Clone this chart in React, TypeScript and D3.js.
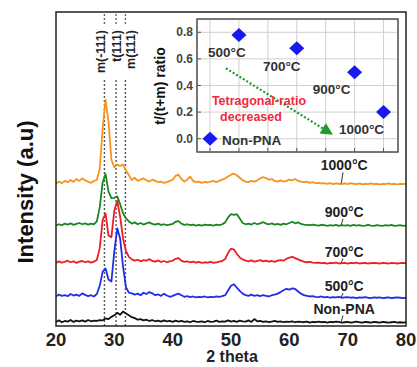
import React from "react"
import * as d3 from "d3"

// 2 theta sampled every 0.5 deg from 20 to 80
const thetaStart = 20
const thetaStep = 0.5

const seriesNames = ["Non-PNA", "500°C", "700°C", "900°C", "1000°C"]
const seriesColors = ["#111111", "#1f2fe8", "#ee1c25", "#17881f", "#f7931e"]
const seriesOffsets = [1.0, 8.8, 19.8, 31.8, 45]

const nonPNA = [
  0.3,0.8,0.2,0.6,0.4,0.9,0.3,0.7,0.5,0.8,
  0.4,0.9,0.5,0.7,0.6,0.9,0.8,1.4,1.2,1.9,
  2.4,3.2,2.6,3.6,3.0,2.4,1.8,1.5,1.0,1.2,
  0.8,1.0,0.6,0.9,0.5,0.7,0.4,0.8,0.5,0.6,
  0.3,0.7,0.4,0.6,0.3,0.5,0.2,0.6,0.4,0.3,
  0.5,0.2,0.6,0.3,0.4,0.7,0.3,0.5,0.4,0.8,
  0.4,0.6,0.3,0.7,0.5,0.4,0.8,0.3,1.2,0.5,
  0.6,0.3,0.5,0.2,0.4,0.6,0.3,0.5,0.2,0.4,
  0.3,0.5,0.2,0.4,0.3,0.2,0.4,0.1,0.3,0.2,
  0.4,0.2,0.3,0.1,0.3,0.2,0.4,0.3,0.1,0.2,
  0.3,0.1,0.2,0.4,0.2,0.1,0.3,0.2,0.1,0.3,
  0.2,0.1,0.3,0.2,0.1,0.2,0.3,0.1,0.2,0.1,
  0.2,
]
const t500 = [
  0.6,1.2,0.8,1.0,0.7,1.4,0.9,1.2,0.8,1.6,
  1.1,0.7,1.0,0.6,1.4,4,8.5,9.5,6,5.4,
  15,22.3,19,10,3.5,1.8,1.6,1.2,1.5,1.0,
  1.8,1.4,2.0,1.6,1.0,1.3,0.8,1.5,0.9,0.5,
  0.8,1.2,1.5,1.0,0.5,0.7,0.4,0.6,0.3,0.5,
  0.4,0.6,0.3,0.5,0.4,0.6,0.5,0.7,1.0,2.5,
  4.0,4.5,3.4,2.4,1.5,1.0,0.8,1.2,0.8,1.0,
  0.7,1.0,0.8,0.6,1.0,1.2,1.5,2.0,2.6,3.0,
  2.8,3.2,3.0,2.2,1.5,1.0,0.8,0.6,0.7,0.5,
  0.4,0.6,0.3,0.5,0.2,0.4,0.3,0.5,0.2,0.3,
  0.4,0.2,0.3,0.1,0.3,0.2,0.4,0.2,0.1,0.3,
  0.2,0.3,0.1,0.2,0.3,0.1,0.2,0.3,0.2,0.1,
  0.2,
]
const t700 = [
  0.3,0.8,0.4,0.6,1.0,0.5,0.8,0.3,0.7,0.9,
  0.5,0.8,0.4,0.7,1.2,5,14,16,9,8.5,
  17,20,15,8,4,2.2,1.4,1.0,1.3,0.8,
  1.2,1.0,1.5,0.9,0.7,1.1,0.6,0.9,0.5,0.8,
  1.0,1.6,1.8,1.0,0.6,0.8,0.5,0.7,0.4,0.6,
  0.3,0.5,0.4,0.6,0.3,0.5,0.7,0.9,1.5,3.5,
  4.8,4.6,3.2,2.0,1.4,1.0,0.8,1.1,0.7,0.9,
  1.2,0.8,1.0,0.7,0.9,0.6,1.0,1.2,1.0,1.6,
  2.0,2.2,1.8,1.4,1.0,0.7,0.5,0.6,0.4,0.3,
  0.4,0.2,0.3,0.1,0.3,0.2,0.4,0.1,0.2,0.3,
  0.1,0.3,0.2,0.4,0.1,0.2,0.3,0.1,0.2,0.3,
  0.2,0.1,0.3,0.2,0.1,0.3,0.2,0.1,0.2,0.3,
  0.2,
]
const t900 = [
  0.2,0.6,0.3,0.8,0.5,0.9,0.4,0.7,1.0,0.6,
  0.9,0.5,0.8,0.6,1.5,6,14,16.6,11,8.9,
  9,9.5,7,4,2.5,1.5,0.8,1.2,0.6,1.0,
  0.5,0.9,1.2,0.7,0.5,0.8,0.4,0.6,0.3,0.5,
  0.7,1.4,1.6,0.8,0.4,0.6,0.3,0.5,0.2,0.4,
  0.2,0.5,0.3,0.4,0.2,0.5,0.3,0.6,1.2,2.8,
  3.8,3.6,3.8,2.4,1.0,0.6,0.8,0.5,1.0,0.6,
  0.9,1.3,0.8,0.6,0.9,0.5,0.7,0.4,0.8,0.6,
  1.0,1.4,0.9,1.2,0.7,0.5,0.4,0.3,0.5,0.3,
  0.2,0.4,0.3,0.1,0.3,0.2,0.4,0.1,0.3,0.2,
  0.3,0.1,0.4,0.2,0.3,0.1,0.2,0.4,0.2,0.1,
  0.3,0.2,0.1,0.3,0.2,0.4,0.1,0.2,0.3,0.1,
  0.2,
]
const t1000 = [
  0.3,1.0,0.5,1.2,0.8,1.5,0.9,1.8,1.2,2.0,
  1.4,1.0,0.6,1.2,1.5,5,18,27,20,8,
  5.5,6.4,6.0,6.4,4.5,3.0,1.5,2.2,1.2,1.6,
  2.0,1.4,1.0,1.6,1.2,0.8,1.0,0.6,0.8,1.2,
  1.6,2.8,3.2,1.8,1.0,1.6,2.6,1.2,0.8,1.0,
  0.6,0.9,0.7,1.0,1.2,0.8,1.2,1.6,2.0,2.6,
  3.2,3.5,3.0,2.2,1.4,1.0,0.8,1.2,1.0,1.4,
  2.0,2.4,2.1,1.6,1.8,1.2,1.0,1.4,1.0,1.2,
  1.6,1.4,1.8,1.2,1.0,0.8,1.0,0.6,0.8,0.5,
  0.6,0.4,0.5,0.3,0.5,0.2,0.4,0.3,0.2,0.4,
  0.2,0.5,0.3,0.2,0.4,0.1,0.3,0.2,0.4,0.2,
  0.3,0.1,0.3,0.2,0.4,0.2,0.3,0.1,0.3,0.2,
  0.3,
]
const seriesValues = [nonPNA, t500, t700, t900, t1000]

const xTicks = [20, 30, 40, 50, 60, 70, 80]
const peakNames = ["m(-111)", "t(111)", "m(111)"]
const peakPositions = [28.3, 30.3, 31.9]

// inset: tetragonal ratio
const insetNames = ["Non-PNA", "500°C", "700°C", "900°C", "1000°C"]
const insetSlots = [0, 1, 3, 5, 6]
const insetRatio = [0.0, 0.78, 0.68, 0.5, 0.2]
const insetTicks = [0.0, 0.2, 0.4, 0.6, 0.8]

const font = "'Liberation Sans', Arial, sans-serif"

export default function App() {
  const width = 417, height = 367
  const m = {left: 56, right: 406, top: 12, bottom: 326}

  const x = d3.scaleLinear().domain([20, 80]).range([m.left, m.right])
  const y = d3.scaleLinear().domain([0, 100]).range([m.bottom, m.top])

  const line = (vals: number[], off: number) =>
    d3.line<number>()
      .x((_, i) => x(thetaStart + i * thetaStep))
      .y(v => y(v + off))(vals) || ""

  // label lift above baseline for each series, and peak label nudges
  const labelLift = [8, 6, 6, 8, 13]
  const labelX = x(69.4)
  const peakNudge = [0.5, 4.5, 10]

  // inset geometry
  const ib = {left: 197, right: 398, top: 19, bottom: 152}
  const ix = d3.scaleLinear().domain([-0.45, 6.5]).range([ib.left, ib.right])
  const iy = d3.scaleLinear().domain([-0.1, 0.9]).range([ib.bottom, ib.top])
  const labelOffsets: [number, number, string][] = [
    [12, 6, "start"], [-12, 22, "middle"], [-15, 23, "middle"], [-23, 22, "middle"], [-22, 22, "middle"],
  ]
  const diamond = (cx: number, cy: number) =>
    `M${cx},${cy - 7}L${cx + 7.5},${cy}L${cx},${cy + 7}L${cx - 7.5},${cy}Z`

  const a0 = [ix(0.55), iy(0.53)]
  const a1 = [ix(4.25), iy(0.03)]
  const ang = Math.atan2(a1[1] - a0[1], a1[0] - a0[0])
  const headLen = 12, headW = 6
  const hb = [a1[0] - headLen * Math.cos(ang), a1[1] - headLen * Math.sin(ang)]
  const head = `M${a1[0]},${a1[1]}L${hb[0] + headW * Math.sin(ang)},${hb[1] - headW * Math.cos(ang)}L${hb[0] - headW * Math.sin(ang)},${hb[1] + headW * Math.cos(ang)}Z`

  return (
    <svg width={width} height={height} style={{position: "absolute", left: 0, top: 0, background: "#fff"}}
      fontFamily={font}>
      {/* peak marker lines */}
      {peakPositions.map((p, i) => (
        <g key={i}>
          <line x1={x(p)} x2={x(p)} y1={m.top + 2} y2={25} stroke="#666" strokeWidth={1.4} strokeDasharray="2,2" />
          <line x1={x(p)} x2={x(p)} y1={80} y2={m.bottom} stroke="#555" strokeWidth={1.4} strokeDasharray="2,2" />
        </g>
      ))}
      {peakNames.map((n, i) => (
        <text key={n} transform={`translate(${x(peakPositions[i]) + peakNudge[i]},30) rotate(-90)`}
          textAnchor="end" fontSize={12.5} fontWeight="bold" fill="#222">{n}</text>
      ))}

      {/* patterns */}
      {seriesValues.map((vals, i) => (
        <path key={i} d={line(vals, seriesOffsets[i])} fill="none" stroke={seriesColors[i]} strokeWidth={1.8}
          strokeLinejoin="round" />
      ))}

      {/* series labels */}
      {seriesNames.map((n, i) => {
        const base = y(seriesOffsets[i] + 0.4)
        return (
          <g key={n}>
            <text x={labelX} y={base - labelLift[i]} textAnchor="middle" fontSize={14} fontWeight="bold" fill="#222">{n}</text>
            <line x1={x(69.2)} x2={x(68.9)} y1={base - labelLift[i] + 2} y2={base} stroke="#333" strokeWidth={1} />
          </g>
        )
      })}

      {/* frame */}
      <rect x={m.left} y={m.top} width={m.right - m.left} height={m.bottom - m.top} fill="none" stroke="#222" strokeWidth={1.5} />

      {/* x axis labels */}
      {xTicks.map(t => (
        <text key={t} x={x(t)} y={346} textAnchor="middle" fontSize={18.5} fontWeight="bold" fill="#222">{t}</text>
      ))}
      <text x={232} y={362} textAnchor="middle" fontSize={16} fontWeight="bold" fill="#222">2 theta</text>
      <text transform="translate(33,192) rotate(-90)" textAnchor="middle" fontSize={22} fontWeight="bold" fill="#111">Intensity (a.u)</text>

      {/* inset */}
      <rect x={ib.left} y={ib.top} width={ib.right - ib.left} height={ib.bottom - ib.top} fill="#fff" stroke="#555" strokeWidth={1} />
      {d3.range(0, 7).map(s => (
        <g key={s}>
          <line x1={ix(s)} x2={ix(s)} y1={ib.top} y2={ib.bottom} stroke="#d0d0d0" strokeWidth={1} />
          <line x1={ix(s)} x2={ix(s)} y1={ib.bottom - 4} y2={ib.bottom} stroke="#555" strokeWidth={1} />
        </g>
      ))}
      {insetTicks.map(t => (
        <g key={t}>
          <line x1={ib.left} x2={ib.right} y1={iy(t)} y2={iy(t)} stroke="#d0d0d0" strokeWidth={1} />
          <line x1={ib.left} x2={ib.left + 4} y1={iy(t)} y2={iy(t)} stroke="#555" strokeWidth={1} />
          <text x={ib.left - 4} y={iy(t) + 4} textAnchor="end" fontSize={12} fontWeight="bold" fill="#444">{t.toFixed(1)}</text>
        </g>
      ))}
      <rect x={ib.left} y={ib.top} width={ib.right - ib.left} height={ib.bottom - ib.top} fill="none" stroke="#555" strokeWidth={1.2} />
      <text transform={`translate(165,86) rotate(-90)`} textAnchor="middle" fontSize={14} fontWeight="bold" fill="#111">t/(t+m) ratio</text>

      <line x1={a0[0]} y1={a0[1]} x2={hb[0]} y2={hb[1]} stroke="#1c9a2a" strokeWidth={2.2} strokeDasharray="2,2" />
      <path d={head} fill="#1c9a2a" />
      <text x={259} y={105} textAnchor="middle" fontSize={12.5} fontWeight="bold" fill="#ee2a3c">Tetragonal-ratio</text>
      <text x={251} y={121} textAnchor="middle" fontSize={12.5} fontWeight="bold" fill="#ee2a3c">decreased</text>

      {insetSlots.map((s, i) => (
        <g key={insetNames[i]}>
          <path d={diamond(ix(s), iy(insetRatio[i]))} fill="#1818f0" />
          <text x={ix(s) + labelOffsets[i][0]} y={iy(insetRatio[i]) + labelOffsets[i][1]}
            textAnchor={labelOffsets[i][2]} fontSize={13.5} fontWeight="bold" fill="#333">{insetNames[i]}</text>
        </g>
      ))}
    </svg>
  )
}
